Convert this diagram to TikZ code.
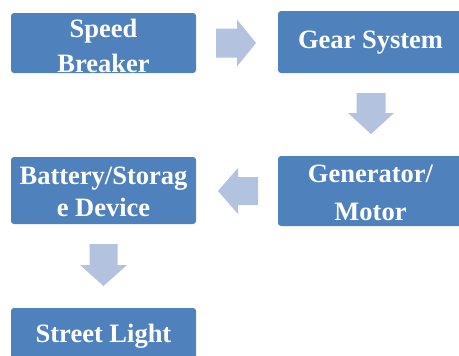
\documentclass[tikz,border=0pt]{standalone}
\usepackage{fontspec}
\setmainfont{Liberation Serif}
\definecolor{boxblue}{HTML}{4F81BD}
\definecolor{arrowblue}{HTML}{B3C3DF}
\begin{document}
\begin{tikzpicture}[x=1pt,y=-1pt,
  box/.style={draw=none,fill=boxblue,rounded corners=3pt,minimum width=185pt,inner sep=0pt,anchor=center},
  txt/.style={text=white,font=\fontsize{26.5}{32}\selectfont\bfseries,align=center,inner sep=0pt},
  blockarrow/.style={fill=arrowblue,draw=none}]
\useasboundingbox (0,0) rectangle (459,356);
\begin{scope}
\clip (0,0) rectangle (459,356);
% boxes
\node[box,minimum height=60pt] (sb) at (103.5,43) {};
\node[box,minimum height=62pt] (gs) at (370.5,42) {};
\node[box,minimum height=70pt] (gm) at (370.5,191) {};
\node[box,minimum height=67pt] (bs) at (103.5,190.5) {};
\node[box,minimum height=60pt] (sl) at (103.5,338) {};
% texts
\node[txt] (sbt) at ([yshift=-3pt]sb.center) {Speed\\[3pt]Breaker};
\node[txt] (gst) at ([yshift=-1pt]gs.center) {Gear System};
\node[txt] (gmt) at ([yshift=-2pt]gm.center) {Generator/\\[6pt]Motor};
\node[txt] (bst) at ([yshift=-1pt]bs.center) {Battery/Storag\\e Device};
\node[txt] (slt) at (103.5,336) {Street Light};
% block arrows
\fill[blockarrow] (216,28.5) -- (237,28.5) -- (237,19.5) -- (256,43) -- (237,66.5) -- (237,57.5) -- (216,57.5) -- cycle;
\fill[blockarrow] (356.5,93) -- (385.5,93) -- (385.5,113) -- (394,113) -- (371,134) -- (348,113) -- (356.5,113) -- cycle;
\fill[blockarrow] (258,177) -- (238,177) -- (238,168) -- (218,191) -- (238,214) -- (238,205) -- (258,205) -- cycle;
\fill[blockarrow] (89.5,244) -- (117.5,244) -- (117.5,265) -- (127,265) -- (103.5,286) -- (80,265) -- (89.5,265) -- cycle;
\end{scope}
\end{tikzpicture}
\end{document}
